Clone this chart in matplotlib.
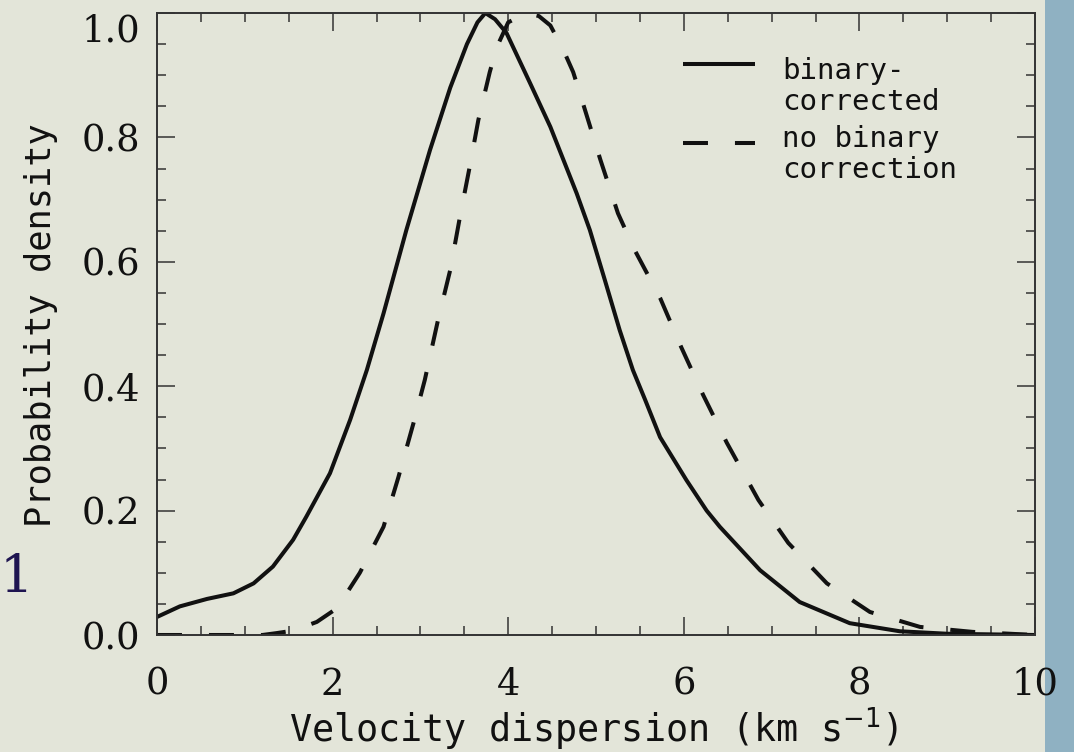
#!/usr/bin/env python3
from matplotlib import pyplot as plt
from matplotlib.ticker import MultipleLocator
from matplotlib.patches import Rectangle

# binary-corrected curve (solid)
corr_x = [0.0, 0.26, 0.57, 0.87, 1.10, 1.32, 1.55, 1.70, 1.97, 2.20, 2.39, 2.58,
          2.84, 3.11, 3.34, 3.53, 3.65, 3.74, 3.85, 3.98, 4.25, 4.48, 4.78, 4.93,
          5.10, 5.27, 5.42, 5.56, 5.73, 6.03, 6.26, 6.41, 6.87, 7.32, 7.89, 8.46,
          9.0, 10.0]
corr_y = [0.029, 0.046, 0.058, 0.067, 0.083, 0.11, 0.153, 0.19, 0.26, 0.346, 0.426, 0.517,
          0.651, 0.78, 0.88, 0.95, 0.985, 1.0, 0.99, 0.968, 0.887, 0.817, 0.71, 0.651,
          0.571, 0.49, 0.426, 0.378, 0.318, 0.249, 0.200, 0.174, 0.104, 0.053, 0.019, 0.006,
          0.002, 0.0]

# no binary correction (dashed)
nocorr_x = [0.0, 1.2, 1.36, 1.55, 1.82, 2.05, 2.31, 2.58, 2.75, 2.92, 3.05, 3.20,
            3.34, 3.45, 3.57, 3.66, 3.79, 3.87, 4.00, 4.21, 4.35, 4.48, 4.63, 4.74,
            4.84, 5.05, 5.25, 5.44, 5.73, 5.97, 6.22, 6.49, 6.85, 7.19, 7.63, 8.12,
            8.69, 9.29, 10.0]
nocorr_y = [0.0, 0.0, 0.003, 0.007, 0.021, 0.043, 0.10, 0.174, 0.254, 0.34, 0.41, 0.506,
            0.587, 0.672, 0.759, 0.828, 0.905, 0.945, 0.985, 1.0, 0.995, 0.98, 0.94, 0.905,
            0.86, 0.764, 0.678, 0.619, 0.542, 0.463, 0.386, 0.309, 0.217, 0.148, 0.083, 0.037,
            0.013, 0.005, 0.0]

legend_labels = ['binary-\ncorrected', 'no binary\ncorrection']

bg = '#e3e5d9'
ink = '#111111'
mono = 'DejaVu Sans Mono'

fig = plt.figure(figsize=(10.74, 7.52), dpi=100, facecolor=bg)
ax = fig.add_axes([157/1074, 117/752, 878/1074, 622/752])
ax.set_facecolor(bg)

# blauwe rand rechts (slide achtergrond), achter de rest
fig.patches.append(Rectangle((1045/1074, 0), 1 - 1045/1074, 1, transform=fig.transFigure,
                             facecolor='#8fb1c2', edgecolor='none', zorder=-5))
# losse "1" van de slide links
fig.text(0, 1 - 578/752, '1', family='DejaVu Serif', fontsize=38,
         color='#1e1450', ha='left', va='center')

ax.plot(corr_x, corr_y, color=ink, linewidth=2.9, solid_capstyle='butt')
ax.plot(nocorr_x, nocorr_y, color=ink, linewidth=2.9, dashes=(6.2, 6.7),
        dash_capstyle='butt')

ax.set_xlim(0, 10)
ax.set_ylim(0, 1.0)
ax.xaxis.set_minor_locator(MultipleLocator(0.5))
ax.yaxis.set_minor_locator(MultipleLocator(0.05))
ax.set_xticks([0, 2, 4, 6, 8, 10])
ax.set_xticklabels(['0', '2', '4', '6', '8', '10'])
ax.set_yticks([0.0, 0.2, 0.4, 0.6, 0.8, 1.0])
ax.set_yticklabels(['0.0', '0.2', '0.4', '0.6', '0.8', '1.0'])

ax.tick_params(which='both', direction='in', top=True, right=True,
               color='#333333', width=1.1)
ax.tick_params(which='major', length=13)
ax.tick_params(which='minor', length=6.5)
ax.tick_params(axis='x', which='major', pad=23)
ax.tick_params(axis='y', which='major', pad=12)
for lab in ax.get_xticklabels() + ax.get_yticklabels():
    lab.set_family('DejaVu Serif')
    lab.set_fontsize(26.5)
    lab.set_color(ink)
# bovenste label zakt naar beneden zodat het op de slide past
ax.get_yticklabels()[-1].set_verticalalignment('top')

for s in ax.spines.values():
    s.set_color('#333333')
    s.set_linewidth(1.4)

ax.set_xlabel('Velocity dispersion (km s$^{-1}$)', family=mono, fontsize=26.5, color=ink)
ax.set_ylabel('Probability density', family=mono, fontsize=25.5, color=ink)
ax.xaxis.set_label_coords(0.497, -0.113)
ax.yaxis.set_label_coords(-0.113, 0.498)

# legenda met de hand
lx0, lx1 = (683 - 157)/878, (755 - 157)/878
ax.plot([lx0, lx1], [(635 - 64)/622]*2, transform=ax.transAxes, color=ink,
        linewidth=2.9, solid_capstyle='butt', clip_on=False)
ax.plot([lx0, lx1], [(635 - 143)/622]*2, transform=ax.transAxes, color=ink,
        linewidth=2.9, dashes=(6.2, 6.7), dash_capstyle='butt', clip_on=False)
tx = (782 - 157)/878
ax.text(tx, (635 - 57)/622, legend_labels[0], transform=ax.transAxes, family=mono,
        fontsize=21, va='top', ha='left', color=ink, linespacing=1.15)
ax.text(tx, (635 - 125)/622, legend_labels[1], transform=ax.transAxes, family=mono,
        fontsize=21, va='top', ha='left', color=ink, linespacing=1.15)

plt.savefig('out.png', dpi=100, facecolor=bg)
